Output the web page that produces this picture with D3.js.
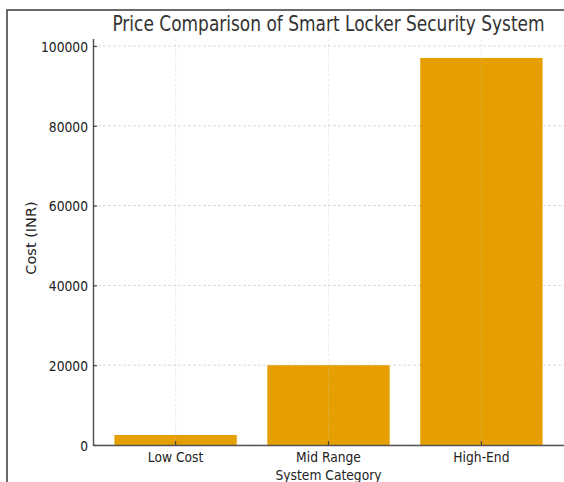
<!DOCTYPE html>
<html>
<head>
<meta charset="utf-8">
<script src="https://cdn.jsdelivr.net/npm/d3@7"></script>
<style>
  body { margin: 0; background: #fff; }
  svg { display: block; }
  svg text { font-family: "DejaVu Sans", sans-serif; }
</style>
</head>
<body>
<div id="chart"></div>
<script>
// data
const categories = ["Low Cost", "Mid Range", "High-End"];
const costs = [2500, 20000, 97000];
const yTicks = [0, 20000, 40000, 60000, 80000, 100000];

const svgWidth = 564;
const svgHeight = 482;
const sx = 0.85; // text in the picture is squeezed sideways

const svg = d3.select("#chart").append("svg")
  .attr("width", svgWidth)
  .attr("height", svgHeight);

// outer frame of the screenshot
svg.append("rect")
  .attr("x", 7).attr("y", 10)
  .attr("width", 620).attr("height", 520)
  .attr("fill", "none")
  .attr("stroke", "#3a3a3a")
  .attr("stroke-width", 1.5);

const left = 93, right = 564, bottom = 445;

const x = d3.scaleBand()
  .domain(categories)
  .range([left, right])
  .paddingInner(0.2)
  .paddingOuter(0.14);

const y = d3.scaleLinear()
  .domain([0, d3.max(costs) * 1.05])
  .range([bottom, 38.6]);

// grid
svg.selectAll(".hgrid")
  .data(yTicks)
  .enter().append("line")
  .attr("x1", left).attr("x2", right)
  .attr("y1", d => y(d)).attr("y2", d => y(d))
  .attr("stroke", "#d0d0d0")
  .attr("stroke-width", 0.8)
  .attr("stroke-dasharray", "3,2");

// bars
svg.selectAll(".bar")
  .data(costs)
  .enter().append("rect")
  .attr("class", "bar")
  .attr("x", (d, i) => x(categories[i]))
  .attr("y", d => y(d))
  .attr("width", x.bandwidth())
  .attr("height", d => bottom - y(d))
  .attr("fill", "#e69f00");

// vertical grid shows faintly over the bars
svg.selectAll(".vgrid")
  .data(categories)
  .enter().append("line")
  .attr("x1", d => x(d) + x.bandwidth() / 2)
  .attr("x2", d => x(d) + x.bandwidth() / 2)
  .attr("y1", y.range()[1]).attr("y2", bottom)
  .attr("stroke", "rgba(200,200,200,0.45)")
  .attr("stroke-width", 0.8)
  .attr("stroke-dasharray", "3,2");

// y axis
const yAxis = svg.append("g")
  .attr("transform", `translate(${left},0)`)
  .call(d3.axisLeft(y).tickValues(yTicks).tickSize(-4).tickSizeOuter(0).tickFormat(d3.format("d")))
  .attr("font-family", null);

yAxis.select(".domain").attr("stroke", "#555").attr("stroke-width", 1.5);
yAxis.selectAll(".tick line").attr("stroke", "#444").attr("stroke-width", 1.2);
yAxis.selectAll(".tick text")
  .attr("x", null)
  .attr("dy", "0.36em")
  .attr("transform", `translate(-5,0) scale(${sx},1)`)
  .style("font-size", "14.5px")
  .style("fill", "#222");

// x axis
const xAxis = svg.append("g")
  .attr("transform", `translate(0,${bottom})`)
  .call(d3.axisBottom(x).tickSize(-4).tickSizeOuter(0))
  .attr("font-family", null);

xAxis.select(".domain").attr("stroke", "#555").attr("stroke-width", 1.5);
xAxis.selectAll(".tick line").attr("stroke", "#444").attr("stroke-width", 1.2);
xAxis.selectAll(".tick text")
  .attr("y", null)
  .attr("dy", null)
  .attr("transform", `translate(0,17) scale(${sx},1)`)
  .style("font-size", "14.5px")
  .style("fill", "#222");

// title
svg.append("text")
  .attr("transform", `translate(${(left + right) / 2},31) scale(0.81,1)`)
  .attr("text-anchor", "middle")
  .style("font-size", "21px")
  .style("fill", "#333")
  .text("Price Comparison of Smart Locker Security System");

// axis labels
svg.append("text")
  .attr("transform", `translate(${(left + right) / 2},480) scale(${sx},1)`)
  .attr("text-anchor", "middle")
  .style("font-size", "14.5px")
  .style("fill", "#222")
  .text("System Category");

svg.append("text")
  .attr("transform", "translate(36,238) rotate(-90)")
  .attr("text-anchor", "middle")
  .style("font-size", "14.5px")
  .style("fill", "#222")
  .text("Cost (INR)");
</script>
</body>
</html>
